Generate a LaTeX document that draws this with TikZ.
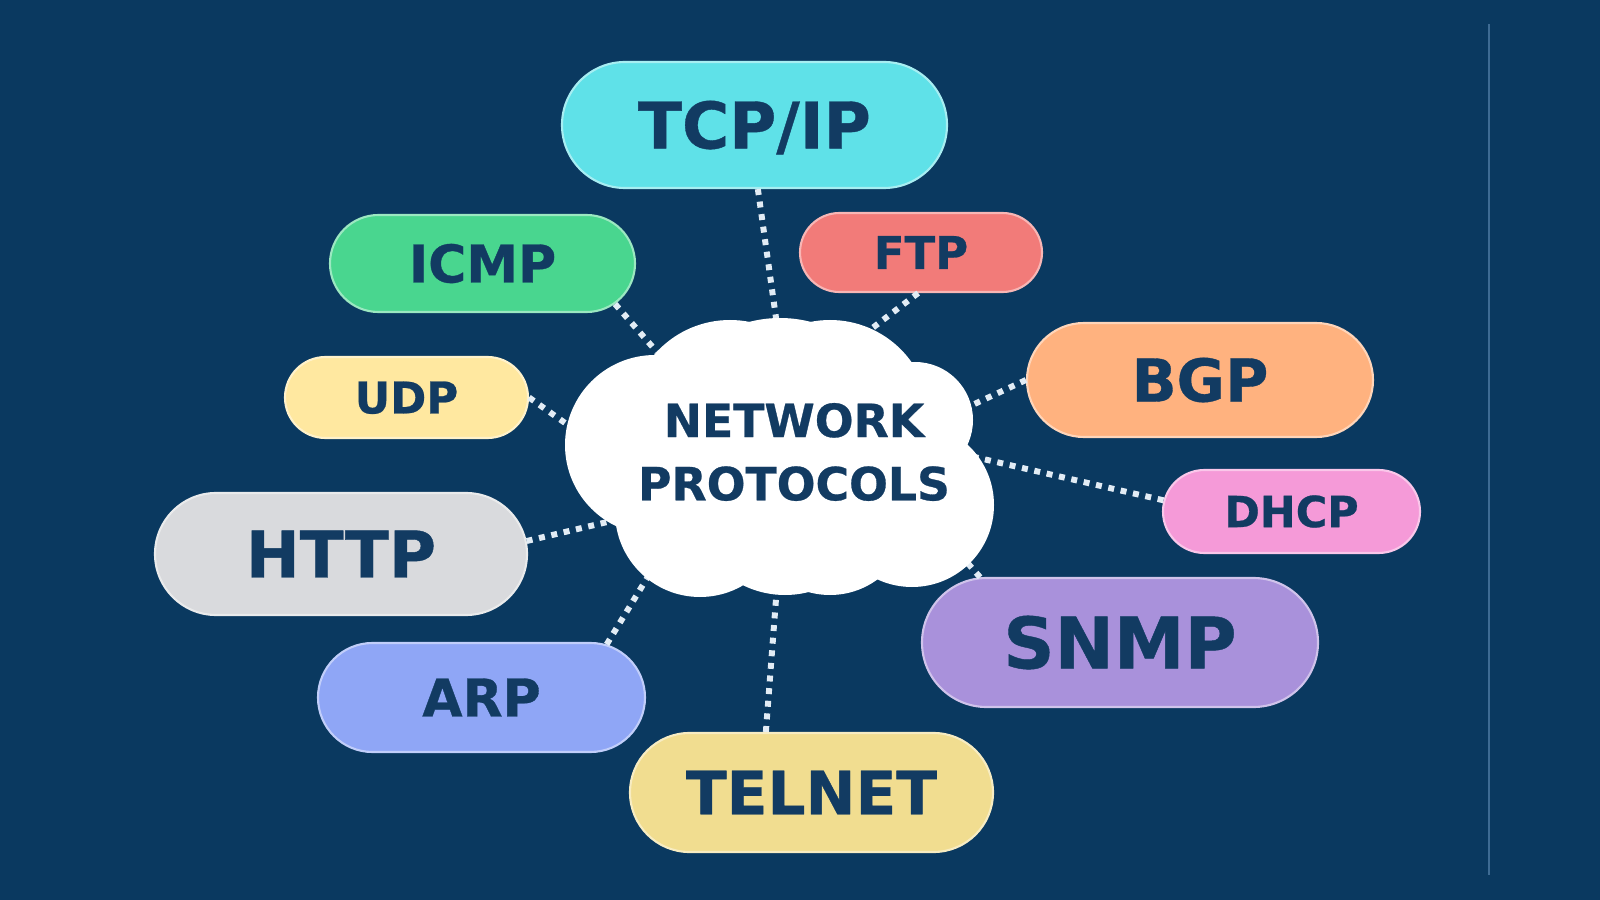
\documentclass[tikz,border=0pt]{standalone}
\usepackage{fontspec}
\setmainfont{DejaVu Sans}[BoldFeatures={FakeBold=0.6}]
\usetikzlibrary{shapes.misc}
\definecolor{bg}{HTML}{0A3960}
\definecolor{ink}{HTML}{123B62}
\definecolor{sideline}{HTML}{3E6B93}
\definecolor{dotc}{HTML}{E2ECF5}
\definecolor{cTCP}{HTML}{5FE1E8}
\definecolor{cICMP}{HTML}{49D68F}
\definecolor{cFTP}{HTML}{F27B79}
\definecolor{cBGP}{HTML}{FFB27F}
\definecolor{cUDP}{HTML}{FFE8A0}
\definecolor{cDHCP}{HTML}{F59AD8}
\definecolor{cHTTP}{HTML}{D9DADD}
\definecolor{cSNMP}{HTML}{A991DB}
\definecolor{cARP}{HTML}{8FA6F6}
\definecolor{cTELNET}{HTML}{F1DD90}
\tikzset{
  pill/.style={rounded rectangle, inner sep=0pt, line width=0.6pt, text=ink, align=center},
  conn/.style={draw=dotc, line width=1.7pt, dash pattern=on 1.7pt off 1.9pt},
  cloudpart/.style={fill=white}
}
\newcommand\pillnode[8]{%
  \node[pill, fill=#6, draw=#6!55!white,
        minimum width=#4*0.1mm, minimum height=#5*0.1mm,
        text height=0.729*#7pt, text depth=0pt,
        font=\fontsize{#7}{#7}\selectfont\bfseries] (#1) at (#2,#3) {#8};}
\begin{document}
\begin{tikzpicture}[x=0.1mm, y=-0.1mm]
\useasboundingbox (0,0) rectangle (1600,900);
\fill[bg] (0,0) rectangle (1600,900);
\draw[sideline, line width=0.6pt] (1489,24) -- (1489,875);

% cloud end points of connectors
\coordinate (ctcp) at (778,332);
\coordinate (cicmp) at (657,352);
\coordinate (cftp) at (862,336);
\coordinate (cbgp) at (968,407);
\coordinate (cudp) at (575,430);
\coordinate (cdhcp) at (970,456);
\coordinate (chttp) at (620,519);
\coordinate (csnmp) at (950,543);
\coordinate (carp) at (652,570);
\coordinate (ctelnet) at (777,586);

% pills
\pillnode{tcp}{754.5}{125}{385}{126}{cTCP}{18.3}{TCP/IP}
\pillnode{icmp}{482.5}{263.5}{305}{97}{cICMP}{14.8}{ICMP}
\pillnode{ftp}{921}{252.5}{242}{79}{cFTP}{12.8}{FTP}
\pillnode{bgp}{1200}{380}{346}{114}{cBGP}{16.8}{BGP}
\pillnode{udp}{406.5}{397.5}{243}{81}{cUDP}{12.4}{UDP}
\pillnode{dhcp}{1291.5}{511.5}{257}{83}{cDHCP}{12.2}{DHCP}
\pillnode{http}{341}{554}{372}{122}{cHTTP}{18.3}{HTTP}
\pillnode{snmp}{1120}{642.5}{396}{129}{cSNMP}{20.2}{SNMP}
\pillnode{arp}{481.5}{697.5}{327}{109}{cARP}{14.8}{ARP}
\pillnode{telnet}{811.5}{792.5}{363}{119}{cTELNET}{17}{TELNET}

% connectors
\draw[conn] (tcp.-87) -- (ctcp);
\draw[conn] (icmp.-17) -- (cicmp);
\draw[conn] (ftp.-94) -- (cftp);
\draw[conn] (bgp.west) -- (cbgp);
\draw[conn] (udp.east) -- (cudp);
\draw[conn] (dhcp.175) -- (cdhcp);
\draw[conn] (http.4) -- (chttp);
\draw[conn] (snmp.155) -- (csnmp);
\draw[conn] (arp.23) -- (carp);
\draw[conn] (telnet.127) -- (ctelnet);

% cloud
\fill[cloudpart] (730,420) circle (100);
\fill[cloudpart] (830,420) circle (100);
\fill[cloudpart] (780,440) circle (122);
\fill[cloudpart] (655,445) circle (90);
\fill[cloudpart] (915,420) circle (58);
\fill[cloudpart] (912,505) circle (82);
\fill[cloudpart] (700,512) circle (85);
\fill[cloudpart] (830,515) circle (80);
\fill[cloudpart] (785,500) circle (95);
\node[text=ink, align=center, font=\fontsize{13}{18}\selectfont\bfseries] (net) at (794,452) {NETWORK\\PROTOCOLS};
\end{tikzpicture}
\end{document}
